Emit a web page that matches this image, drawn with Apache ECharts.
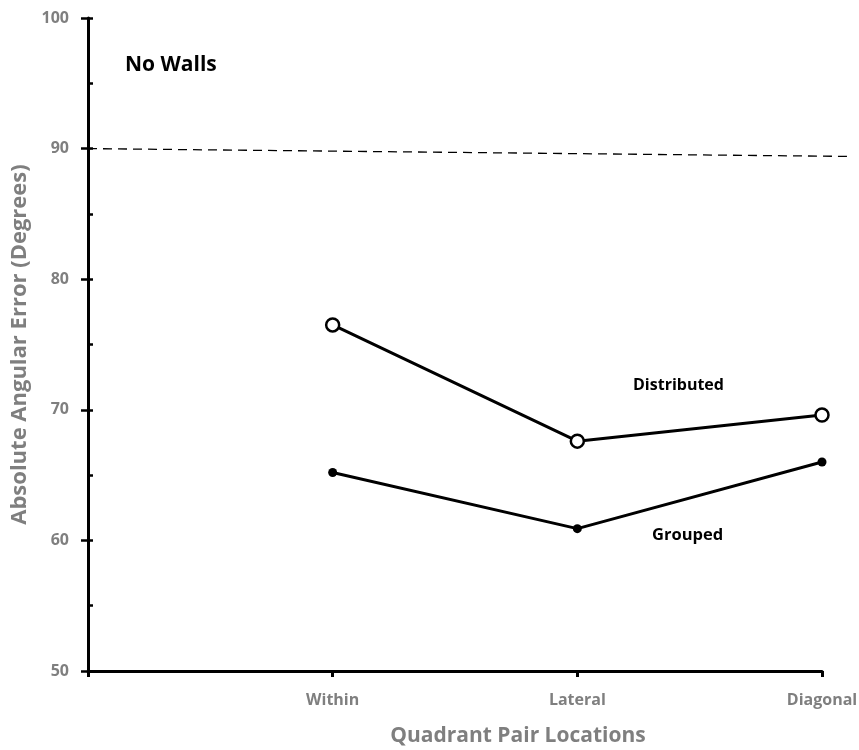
<!DOCTYPE html>
<html>
<head>
<meta charset="utf-8">
<script src="https://cdn.jsdelivr.net/npm/echarts@6/dist/echarts.min.js"></script>
<style>html,body{margin:0;padding:0;background:#fff}#c{width:859px;height:750px}</style>
</head>
<body>
<div id="c"></div>
<script>
// Data
var categories = ['', 'Within', 'Lateral', 'Diagonal'];
var distributed = [null, 76.5, 67.6, 69.6];
var grouped = [null, 65.2, 60.9, 66.0];
var chanceX = [0, 3.1];
var chanceY = [90.0, 89.4];
var yTicks = [50, 60, 70, 80, 90, 100];

var FONT = 'Open Sans';
var GRAY = '#7f7f7f';
var chart = echarts.init(document.getElementById('c'));

function seriesPairs(vals) {
  var out = [];
  for (var i = 0; i < vals.length; i++) if (vals[i] != null) out.push([i, vals[i]]);
  return out;
}

var option = {
  animation: false,
  grid: [
    { left: 88, right: 37, top: 18, bottom: 79, containLabel: false, outerBoundsMode: 'none' },
    { left: 88, right: 11, top: 18, bottom: 79, containLabel: false, outerBoundsMode: 'none' }
  ],
  xAxis: [{
    gridIndex: 0, type: 'value', min: 0, max: 3, interval: 1,
    name: 'Quadrant Pair Locations', nameLocation: 'middle', nameGap: 55,
    nameTextStyle: { color: GRAY, fontFamily: FONT, fontWeight: 'bold', fontSize: 21, padding: [0, 0, 0, 126] },
    axisLine: { show: true, lineStyle: { color: '#000', width: 3 } },
    axisTick: { show: true, inside: false, length: 6, lineStyle: { color: '#000', width: 3 } },
    axisLabel: {
      color: GRAY, fontFamily: FONT, fontWeight: 'bold', fontSize: 16, margin: 21,
      formatter: function (v) { return categories[Math.round(v)] || ''; }
    },
    splitLine: { show: false }
  }, {
    gridIndex: 1, type: 'value', min: chanceX[0], max: chanceX[1], show: false
  }],
  yAxis: [{
    gridIndex: 0, type: 'value', min: yTicks[0], max: yTicks[yTicks.length - 1], interval: 10,
    name: 'Absolute Angular Error (Degrees)', nameLocation: 'middle', nameGap: 55,
    nameTextStyle: { color: GRAY, fontFamily: FONT, fontWeight: 'bold', fontSize: 22 },
    axisLine: { show: true, lineStyle: { color: '#000', width: 3 } },
    axisTick: { show: true, inside: false, length: 7, lineStyle: { color: '#000', width: 2.5 } },
    axisLabel: { color: GRAY, fontFamily: FONT, fontWeight: 'bold', fontSize: 16, margin: 19 },
    splitLine: { show: false }
  }, {
    gridIndex: 0, type: 'value', min: yTicks[0], max: yTicks[yTicks.length - 1], interval: 5, position: 'left',
    axisLine: { show: false },
    axisTick: { show: true, inside: true, length: 5, lineStyle: { color: '#000', width: 2.5 } },
    axisLabel: { show: false },
    splitLine: { show: false }
  }, {
    gridIndex: 1, type: 'value', min: yTicks[0], max: yTicks[yTicks.length - 1], show: false
  }],
  series: [{
    name: 'Chance', type: 'line', silent: true, xAxisIndex: 1, yAxisIndex: 2,
    data: chanceX.map(function (x, i) { return [x, chanceY[i]]; }),
    symbol: 'none',
    lineStyle: { color: '#000', width: 1.3, type: [9, 6] }
  }, {
    name: 'Distributed', type: 'line', xAxisIndex: 0, yAxisIndex: 0,
    data: seriesPairs(distributed),
    symbol: 'circle', symbolSize: 13,
    itemStyle: { color: '#fff', borderColor: '#000', borderWidth: 2.5 },
    lineStyle: { color: '#000', width: 3 }
  }, {
    name: 'Grouped', type: 'line', xAxisIndex: 0, yAxisIndex: 0,
    data: seriesPairs(grouped),
    symbol: 'circle', symbolSize: 9,
    itemStyle: { color: '#000', borderColor: '#000', borderWidth: 0 },
    lineStyle: { color: '#000', width: 3 }
  }],
  graphic: [
    { type: 'text', left: 125, top: 55, style: { text: 'No Walls', fill: '#000', font: 'bold 21px "Open Sans"' } },
    { type: 'text', left: 633, top: 377, style: { text: 'Distributed', fill: '#000', font: 'bold 16px "Open Sans"' } },
    { type: 'text', left: 652, top: 527, style: { text: 'Grouped', fill: '#000', font: 'bold 16.5px "Open Sans"' } }
  ]
};
chart.setOption(option);
</script>
</body>
</html>
